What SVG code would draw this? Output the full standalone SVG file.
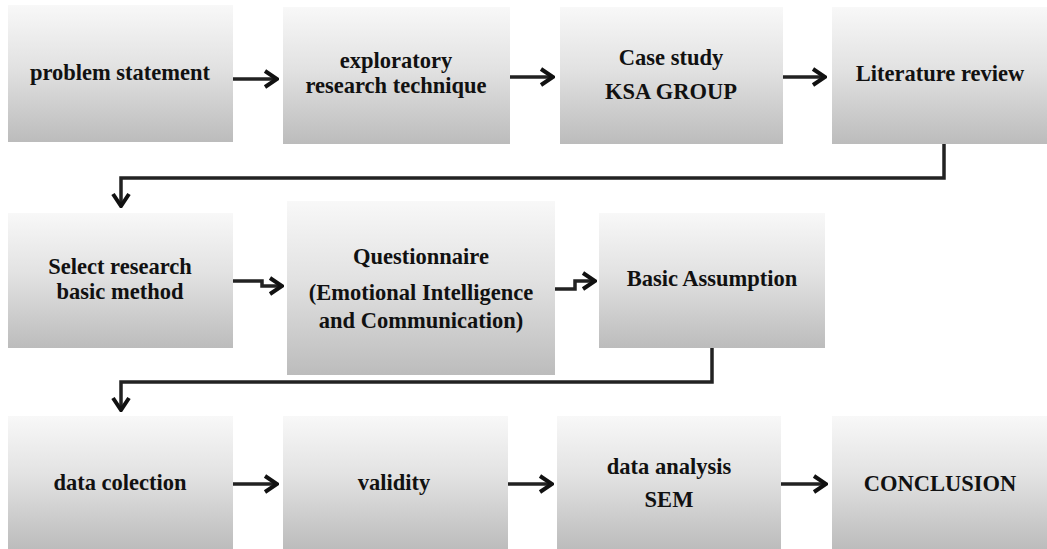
<svg xmlns="http://www.w3.org/2000/svg" width="1047" height="549" viewBox="0 0 1047 549">
<style>
.box{fill:url(#g);}
.t{font-family:"Liberation Serif","Times New Roman",serif;font-weight:bold;font-size:22.5px;fill:#111;text-anchor:middle;}
.a{fill:none;stroke:#222;stroke-width:3.5;marker-end:url(#ah);}
</style>
<defs>
<linearGradient id="g" x1="0" y1="0" x2="0" y2="1">
<stop offset="0" stop-color="#f8f8f8"/>
<stop offset="0.45" stop-color="#e2e2e2"/>
<stop offset="1" stop-color="#bcbcbc"/>
</linearGradient>
<marker id="ah" markerUnits="userSpaceOnUse" viewBox="0 0 16 20" refX="14" refY="10" markerWidth="16" markerHeight="20" orient="auto">
<path d="M2,2 L14,10 L2,18" fill="none" stroke="#111" stroke-width="4"/>
</marker>
</defs>
<rect width="1047" height="549" fill="#fff"/>
<g id="n1"><rect class="box" x="8" y="5" width="225" height="137"/><text class="t" x="120" y="80">problem statement</text></g>
<g id="n2"><rect class="box" x="283" y="7" width="227" height="137"/><text class="t" x="396" y="68">exploratory</text><text class="t" x="396" y="93">research technique</text></g>
<g id="n3"><rect class="box" x="560" y="7" width="223" height="137"/><text class="t" x="671" y="65">Case study</text><text class="t" x="671" y="99">KSA GROUP</text></g>
<g id="n4"><rect class="box" x="832" y="7" width="215" height="137"/><text class="t" x="940" y="81">Literature review</text></g>
<g id="n5"><rect class="box" x="8" y="213" width="225" height="135"/><text class="t" x="120" y="274">Select research</text><text class="t" x="120" y="299">basic  method</text></g>
<g id="n6"><rect class="box" x="287" y="201" width="268" height="174"/><text class="t" x="421" y="264">Questionnaire</text><text class="t" x="421" y="300">(Emotional Intelligence</text><text class="t" x="421" y="328">and Communication)</text></g>
<g id="n7"><rect class="box" x="599" y="213" width="226" height="135"/><text class="t" x="712" y="286">Basic Assumption</text></g>
<g id="n8"><rect class="box" x="8" y="416" width="225" height="133"/><text class="t" x="120" y="490">data colection</text></g>
<g id="n9"><rect class="box" x="283" y="416" width="225" height="133"/><text class="t" x="394" y="490">validity</text></g>
<g id="n10"><rect class="box" x="557" y="416" width="224" height="133"/><text class="t" x="669" y="474">data analysis</text><text class="t" x="669" y="507">SEM</text></g>
<g id="n11"><rect class="box" x="832" y="416" width="215" height="133"/><text class="t" x="940" y="491">CONCLUSION</text></g>
<g id="connectors">
<path class="a" d="M233,79 H277"/>
<path class="a" d="M510,77 H553"/>
<path class="a" d="M783,77 H825"/>
<path class="a" d="M944,144 V178 H121 V206"/>
<path class="a" d="M233,281 H262 V286 H282"/>
<path class="a" d="M555,289 H575 V281 H595"/>
<path class="a" d="M712,348 V382 H121 V410"/>
<path class="a" d="M233,484 H277"/>
<path class="a" d="M508,484 H552"/>
<path class="a" d="M781,484 H826"/>
</g>
</svg>
